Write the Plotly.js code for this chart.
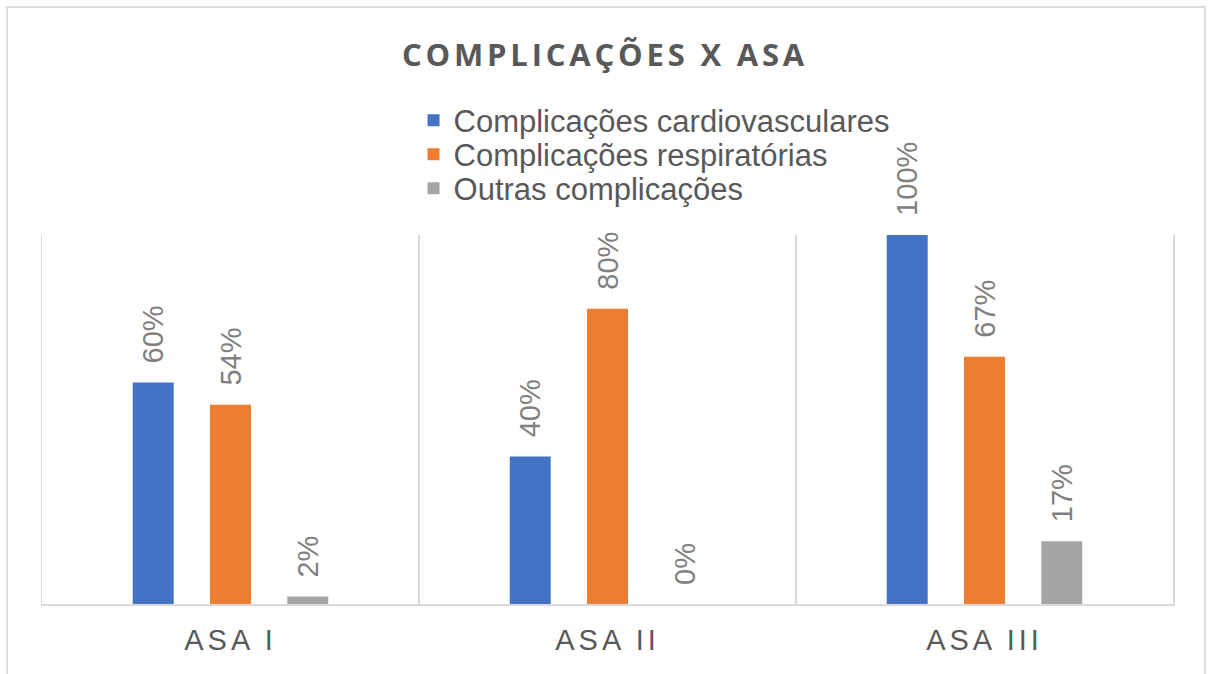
<!DOCTYPE html>
<html>
<head>
<meta charset="utf-8">
<script src="https://cdn.plot.ly/plotly-3.0.1.min.js"></script>
<style>
  html, body { margin: 0; padding: 0; background: #ffffff; }
  #chart { width: 1210px; height: 674px; }
  .gtitle { letter-spacing: 3.8px; }
  .xtick text { letter-spacing: 4px; }
</style>
</head>
<body>
<div id="chart"></div>
<script>
// ---- data ----
const categories = ['ASA I', 'ASA II', 'ASA III'];
const seriesNames = ['Complicações cardiovasculares', 'Complicações respiratórias', 'Outras complicações'];
const cardiovasculares = [60, 40, 100];
const respiratorias = [54, 80, 67];
const outras = [2, 0, 17];
const chartTitle = 'COMPLICAÇÕES X ASA';

const colors = ['#4472C4', '#ED7D31', '#A5A5A5'];
const seriesValues = [cardiovasculares, respiratorias, outras];
const legendIds = ['legend', 'legend2', 'legend3'];

const traces = seriesValues.map((vals, i) => ({
  type: 'bar',
  name: seriesNames[i],
  x: categories,
  y: vals,
  marker: { color: colors[i] },
  text: vals.map(v => '\u00a0\u00a0' + v + '%'),
  textposition: 'outside',
  textangle: -90,
  constraintext: 'none',
  cliponaxis: false,
  outsidetextfont: { family: 'Liberation Sans, Arial, sans-serif', size: 29, color: '#808080' },
  legend: legendIds[i],
  hoverinfo: 'skip'
}));

function plotY(px) { return (604 - px) / 369; }

const legendBase = {
  x: 0.3285,
  xanchor: 'left',
  yanchor: 'middle',
  bgcolor: 'rgba(0,0,0,0)',
  font: { family: 'Liberation Sans, Arial, sans-serif', size: 31, color: '#595959' },
  itemclick: false
};

const layout = {
  width: 1210,
  height: 674,
  paper_bgcolor: '#ffffff',
  plot_bgcolor: '#ffffff',
  margin: { l: 42, r: 37, t: 235, b: 70 },
  barmode: 'group',
  bargap: 0.385,
  bargroupgap: 0.47,
  showlegend: true,
  title: {
    text: '<b>' + chartTitle + '</b>',
    font: { family: 'Open Sans, sans-serif', size: 31, color: '#595959' },
    x: 0.5,
    xref: 'container',
    xanchor: 'center',
    y: 1 - 55 / 674,
    yref: 'container',
    yanchor: 'middle'
  },
  legend: Object.assign({}, legendBase, { y: plotY(120.5) }),
  legend2: Object.assign({}, legendBase, { y: plotY(154.5) }),
  legend3: Object.assign({}, legendBase, { y: plotY(188.5) }),
  xaxis: {
    type: 'category',
    tickson: 'boundaries',
    ticks: '',
    showgrid: true,
    gridcolor: '#d9d9d9',
    gridwidth: 1.5,
    showline: true,
    linecolor: '#d9d9d9',
    linewidth: 1.5,
    tickfont: { family: 'Liberation Sans, Arial, sans-serif', size: 29, color: '#595959' },
    ticklabelstandoff: 10,
    fixedrange: true
  },
  yaxis: {
    range: [0, 100],
    showticklabels: false,
    showgrid: false,
    zeroline: false,
    showline: true,
    mirror: true,
    linecolor: '#d9d9d9',
    linewidth: 1.5,
    fixedrange: true
  },
  shapes: [{
    type: 'rect',
    xref: 'paper', yref: 'paper',
    x0: (7 - 42) / 1131, x1: (1205 - 42) / 1131,
    y0: plotY(690), y1: plotY(7),
    line: { color: '#dcdcdc', width: 2 },
    fillcolor: 'rgba(0,0,0,0)',
    layer: 'below'
  }]
};

Plotly.newPlot('chart', traces, layout, { staticPlot: true, displayModeBar: false });
</script>
</body>
</html>
